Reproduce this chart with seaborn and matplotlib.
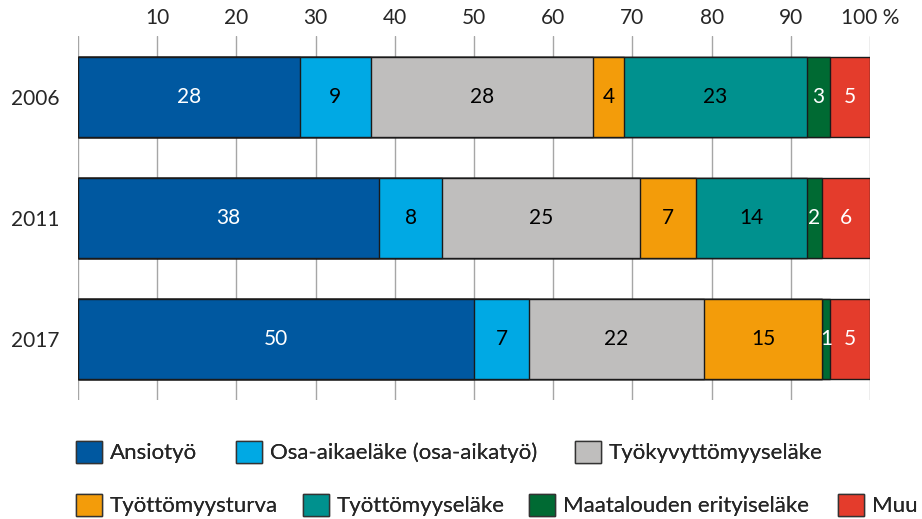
import matplotlib
matplotlib.use("Agg")
import matplotlib.pyplot as plt
import seaborn as sns
import pandas as pd
import numpy as np
from matplotlib.patches import Patch

years = ["2006", "2011", "2017"]
series = ["Ansiotyö", "Osa-aikaeläke (osa-aikatyö)", "Työkyvyttömyyseläke",
          "Työttömyysturva", "Työttömyyseläke", "Maatalouden erityiseläke", "Muu"]
ansiotyo = [28, 38, 50]
osa_aika = [9, 8, 7]
tyokyvyttomyys = [28, 25, 22]
tyottomyysturva = [4, 7, 15]
tyottomyyselake = [23, 14, 0]
maatalous = [3, 2, 1]
muu = [5, 6, 5]
ticks = [10, 20, 30, 40, 50, 60, 70, 80, 90, 100]
tick_labels = ["10", "20", "30", "40", "50", "60", "70", "80", "90", "100 %"]

values = [ansiotyo, osa_aika, tyokyvyttomyys, tyottomyysturva, tyottomyyselake, maatalous, muu]
colors = ["#0058A0", "#00A9E4", "#BFBEBD", "#F39C0A", "#00918E", "#006A33", "#E43C2C"]
text_colors = ["white", "black", "black", "black", "black", "white", "white"]

sns.set_theme(style="white")
plt.rcParams["font.family"] = ["Lato", "DejaVu Sans"]
FS = 15
LFS = 16

fig = plt.figure(figsize=(9.22, 5.19), dpi=100)
ax = fig.add_axes([78/922, 1-400/519, (870-78)/922, (400-36)/519])

vals = np.array(values, dtype=float)
cum = np.cumsum(vals, axis=0)

for i in range(len(series) - 1, -1, -1):
    df = pd.DataFrame({"year": years, "v": cum[i]})
    sns.barplot(data=df, x="v", y="year", orient="h", color=colors[i],
                saturation=1, width=0.66, edgecolor="#1a1a1a", linewidth=1.0,
                ax=ax, zorder=3)

for i in range(len(series)):
    for j in range(len(years)):
        v = vals[i, j]
        if v <= 0:
            continue
        c = cum[i, j] - v / 2
        ax.text(c, j, f"{int(v)}", ha="center", va="center", fontsize=FS,
                color=text_colors[i], zorder=5)

ax.set_xlim(0, 100)
ax.set_ylim(2.5, -0.5)
ax.xaxis.tick_top()
ax.set_xticks(ticks)
ax.set_xticklabels(tick_labels, fontsize=FS)
ax.tick_params(axis="x", length=0, pad=6)
ax.tick_params(axis="y", length=0, pad=13, labelsize=FS)
ax.set_xlabel("")
ax.set_ylabel("")
for s in ax.spines.values():
    s.set_visible(False)
for t in [0] + ticks:
    ax.axvline(t, color="#A6A6A6", linewidth=1.0, zorder=1)

# legend: one entry per legend box, flowing like the original
item_x = [76, 236, 575, 76, 303, 529, 838]
item_y = [452, 452, 452, 505, 505, 505, 505]
kw = dict(frameon=False, fontsize=LFS, handlelength=1.17, handleheight=1.13,
          handletextpad=0.36, borderaxespad=0, borderpad=0)
for i in range(len(series)):
    h = Patch(facecolor=colors[i], edgecolor="#333333", linewidth=1)
    lg = fig.legend([h], [series[i]], loc="center left",
                    bbox_to_anchor=(item_x[i]/922, 1-item_y[i]/519), **kw)
    fig.add_artist(lg)

fig.savefig("out.png", dpi=100)
